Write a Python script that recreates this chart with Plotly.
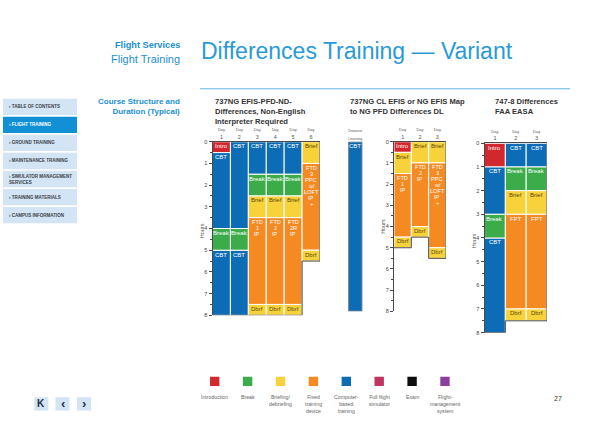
import plotly.graph_objects as go

# ---------------- data ----------------
# Chart 1: 737NG EFIS-PFD-ND Differences, Non-English, Interpreter Required
c1_days = ["1", "2", "3", "4", "5", "6"]
c1_types = [
    ["Intro", "CBT", "Break", "CBT"],
    ["CBT", "Break", "CBT"],
    ["CBT", "Break", "Brief", "FTD", "Dbrf"],
    ["CBT", "Break", "Brief", "FTD", "Dbrf"],
    ["CBT", "Break", "Brief", "FTD", "Dbrf"],
    ["Brief", "FTD", "Dbrf"],
]
c1_hours = [
    [0.5, 3.5, 1, 3],
    [4, 1, 3],
    [1.5, 1, 1, 4, 0.5],
    [1.5, 1, 1, 4, 0.5],
    [1.5, 1, 1, 4, 0.5],
    [1, 4, 0.5],
]
c1_labels = [
    ["Intro", "CBT", "Break", "CBT"],
    ["CBT", "Break", "CBT"],
    ["CBT", "Break", "Brief", "FTD|1|IP", "Dbrf"],
    ["CBT", "Break", "Brief", "FTD|2|IP", "Dbrf"],
    ["CBT", "Break", "Brief", "FTD|2R|IP", "Dbrf"],
    ["Brief", "FTD|3|PPC|w/|LOFT|IP|+", "Dbrf"],
]

# Chart 2a: distance learning block
dl_days = ["Distance<br>Learning"]
dl_types = [["CBT"]]
dl_hours = [[8]]
dl_labels = [["CBT"]]

# Chart 2: 737NG CL EFIS or NG EFIS Map to NG PFD Differences DL
c2_days = ["1", "2", "3"]
c2_types = [
    ["Intro", "Brief", "FTD", "Dbrf"],
    ["Brief", "FTD", "Dbrf"],
    ["Brief", "FTD", "Dbrf"],
]
c2_hours = [
    [0.5, 1, 3, 0.5],
    [1, 3, 0.5],
    [1, 4, 0.5],
]
c2_labels = [
    ["Intro", "Brief", "FTD|1|IP", "Dbrf"],
    ["Brief", "FTD|2|IP", "Dbrf"],
    ["Brief", "FTD|3|PPC|w/|LOFT|IP|+", "Dbrf"],
]

# Chart 3: 747-8 Differences FAA EASA
c3_days = ["1", "2", "3"]
c3_types = [
    ["Intro", "CBT", "Break", "CBT"],
    ["CBT", "Break", "Brief", "FPT", "Dbrf"],
    ["CBT", "Break", "Brief", "FPT", "Dbrf"],
]
c3_hours = [
    [1, 2, 1, 4],
    [1, 1, 1, 4, 0.5],
    [1, 1, 1, 4, 0.5],
]
c3_labels = [
    ["Intro", "CBT", "Break", "CBT"],
    ["CBT", "Break", "Brief", "FPT", "Dbrf"],
    ["CBT", "Break", "Brief", "FPT", "Dbrf"],
]

hour_ticks = [0, 1, 2, 3, 4, 5, 6, 7, 8]

legend_keys = ["Intro", "Break", "Brief", "FTD", "CBT", "FFS", "Exam", "FMS"]
legend_labels = ["Introduction", "Break", "Briefing/<br>debriefing",
                 "Fixed<br>training<br>device", "Computer-<br>based<br>training",
                 "Full flight<br>simulator", "Exam", "Flight-<br>management<br>system"]

sidebar_items = ["TABLE OF CONTENTS", "FLIGHT TRAINING", "GROUND TRAINING",
                 "MAINTENANCE TRAINING", "SIMULATOR MANAGEMENT<br>SERVICES",
                 "TRAINING MATERIALS", "CAMPUS INFORMATION"]

chart_titles = ["737NG EFIS-PFD-ND-<br>Differences, Non-English<br>Interpreter Required",
                "737NG CL EFIS or NG EFIS Map<br>to NG PFD Differences DL",
                "747-8 Differences<br>FAA EASA"]

# ---------------- styles ----------------
W, H = 600, 432
def PX(x): return x / W
def PY(y): return 1 - y / H

COLORS = {"Intro": "#d3272e", "Break": "#3cab4a", "Brief": "#f7d23a", "Dbrf": "#f7d23a",
          "FTD": "#f68a22", "FPT": "#f68a22", "CBT": "#0c6db6", "FFS": "#bf3461",
          "Exam": "#0d0d0d", "FMS": "#8d40a0"}
DARK_TEXT = {"Brief", "Dbrf"}
BLUE = "#1b8fd2"
AXC = "#4a4a4a"
SANS = "Liberation Sans, Arial, sans-serif"
NARROW = "Liberation Sans Narrow, Arial Narrow, Liberation Sans, sans-serif"
LINE_STEP = 6.0  # px between stacked label lines

fig = go.Figure()
annotations = []
shapes = []

charts = [
    dict(days=c1_days, types=c1_types, hours=c1_hours, labels=c1_labels,
         xpx=(212.5, 320.0), ypx=(140.7, 316.7), axes=True, hours_xy=(201.5, 231)),
    dict(days=dl_days, types=dl_types, hours=dl_hours, labels=dl_labels,
         xpx=(348.3, 362.3), ypx=(140.7, 312.7), axes=False),
    dict(days=c2_days, types=c2_types, hours=c2_hours, labels=c2_labels,
         xpx=(394.0, 446.0), ypx=(140.7, 312.7), axes=True, hours_xy=(383, 227)),
    dict(days=c3_days, types=c3_types, hours=c3_hours, labels=c3_labels,
         xpx=(484.5, 547.0), ypx=(142.3, 334.3), axes=True, hours_xy=(479, 241.7)),
]

layout_axes = {}
for k, ch in enumerate(charts, start=1):
    xa = "x" if k == 1 else f"x{k}"
    ya = "y" if k == 1 else f"y{k}"
    groups = {}
    totals = []
    for i, (types, hours, labels) in enumerate(zip(ch["types"], ch["hours"], ch["labels"])):
        start = 0
        for t, h, lab in zip(types, hours, labels):
            g = groups.setdefault(t, {"x": [], "y": [], "base": []})
            g["x"].append(i)
            g["y"].append(h)
            g["base"].append(start)
            lines = lab.split("|")
            for j, line in enumerate(lines):
                annotations.append(dict(
                    x=i, y=start, xref=xa, yref=ya, text=line, showarrow=False,
                    xanchor="center", yanchor="top", yshift=-0.3 - j * LINE_STEP, borderpad=0,
                    font=dict(family=NARROW, size=6 if len(lines) == 1 else 5.6,
                              color="#5a4810" if t in DARK_TEXT else "white")))
            start += h
        totals.append(start)
    for t, g in groups.items():
        fig.add_trace(go.Bar(
            x=g["x"], y=g["y"], base=g["base"], width=1,
            marker=dict(color=COLORS[t], line=dict(color="white", width=1)),
            xaxis=xa, yaxis=ya, showlegend=False, hoverinfo="skip"))
    # outer outline derived from column totals
    n = len(totals)
    pts = []
    if not ch["axes"]:
        pts.append((-0.5, 0))
    for i, T in enumerate(totals):
        pts += [(i - 0.5, T), (i + 0.5, T)]
    pts.append((n - 0.5, 0))
    if not ch["axes"]:
        pts.append((-0.5, 0))
    fig.add_trace(go.Scatter(
        x=[p[0] for p in pts], y=[p[1] for p in pts], mode="lines",
        line=dict(color=AXC, width=1), cliponaxis=False,
        xaxis=xa, yaxis=ya, showlegend=False, hoverinfo="skip"))

    if ch["axes"]:
        ticktext = [f"<span style='font-size:4px'>Day</span><br>{d}" for d in ch["days"]]
    else:
        ticktext = [f"<span style='font-size:3.6px'>{d}</span>" for d in ch["days"]]
    layout_axes["xaxis" if k == 1 else f"xaxis{k}"] = dict(
        domain=[PX(ch["xpx"][0]), PX(ch["xpx"][1])], range=[-0.5, n - 0.5],
        anchor=ya, side="top", showline=ch["axes"], linecolor=AXC, linewidth=1,
        tickvals=list(range(n)), ticktext=ticktext, ticks="",
        tickfont=dict(family=SANS, size=5.5, color="#555"),
        showgrid=False, zeroline=False, fixedrange=True)
    layout_axes["yaxis" if k == 1 else f"yaxis{k}"] = dict(
        domain=[PY(ch["ypx"][1]), PY(ch["ypx"][0])], range=[8, 0],
        anchor=xa, visible=ch["axes"], showline=True, linecolor=AXC, linewidth=1,
        tickvals=hour_ticks, ticks="outside", ticklen=3, tickwidth=0.8, tickcolor=AXC,
        minor=dict(dtick=0.5, tick0=0, ticks="outside", ticklen=2, tickwidth=0.6, tickcolor=AXC),
        tickfont=dict(family=SANS, size=5.5, color="#444"),
        showgrid=False, zeroline=False, fixedrange=True)
    if ch["axes"]:
        annotations.append(dict(
            x=PX(ch["hours_xy"][0]), y=PY(ch["hours_xy"][1]), xref="paper", yref="paper",
            text="Hours", textangle=-90, showarrow=False,
            font=dict(family=SANS, size=5.5, color="#555")))

# ---------------- header ----------------
annotations += [
    dict(x=PX(182.5), y=PY(42.5), xref="paper", yref="paper", xanchor="right", yanchor="middle",
         text="<b>Flight Services</b>", showarrow=False,
         font=dict(family=SANS, size=9.2, color=BLUE)),
    dict(x=PX(182.5), y=PY(56.5), xref="paper", yref="paper", xanchor="right", yanchor="middle",
         text="Flight Training", showarrow=False,
         font=dict(family=SANS, size=11, color=BLUE)),
    dict(x=PX(198.5), y=PY(48.5), xref="paper", yref="paper", xanchor="left", yanchor="middle",
         text="Differences Training — Variant", showarrow=False,
         font=dict(family=SANS, size=23, color="#2a9ad8")),
    dict(x=PX(182.5), y=PY(93), xref="paper", yref="paper", xanchor="right", yanchor="top",
         align="right", text="<b>Course Structure and<br>Duration (Typical)</b>", showarrow=False,
         font=dict(family=SANS, size=8, color=BLUE)),
]
shapes.append(dict(type="line", xref="paper", yref="paper",
                   x0=PX(200), x1=PX(570), y0=PY(87), y1=PY(87),
                   line=dict(color="#62b3e3", width=1)))

for tx, title in zip([213, 347.5, 492.5], chart_titles):
    annotations.append(dict(x=PX(tx), y=PY(93.5), xref="paper", yref="paper",
                            xanchor="left", yanchor="top", align="left",
                            text=f"<b>{title}</b>", showarrow=False,
                            font=dict(family=SANS, size=7.6, color="#333")))

# ---------------- sidebar ----------------
for i, item in enumerate(sidebar_items):
    top = 97 + i * 18.3
    active = (i == 1)
    shapes.append(dict(type="rect", xref="paper", yref="paper",
                       x0=PX(3), x1=PX(77), y0=PY(top), y1=PY(top + 16.6),
                       fillcolor="#1190d6" if active else "#d3e4f4", line=dict(width=0)))
    annotations.append(dict(x=PX(6.5), y=PY(top + 8.3), xref="paper", yref="paper",
                            xanchor="left", yanchor="middle", align="left",
                            text=f"<b>› {item}</b>", showarrow=False,
                            font=dict(family=SANS, size=4.5,
                                      color="white" if active else "#3a3f48")))

# ---------------- legend ----------------
for i, (key, lab) in enumerate(zip(legend_keys, legend_labels)):
    cx = 214.7 + i * 32.9
    shapes.append(dict(type="rect", xref="paper", yref="paper",
                       x0=PX(cx - 4.7), x1=PX(cx + 4.7), y0=PY(379), y1=PY(388.4),
                       fillcolor=COLORS[key], line=dict(width=0)))
    annotations.append(dict(x=PX(cx), y=PY(394.5), xref="paper", yref="paper",
                            xanchor="center", yanchor="top", align="center",
                            text=lab, showarrow=False,
                            font=dict(family=SANS, size=5.2, color="#666")))

annotations.append(dict(x=PX(564), y=PY(406.5), xref="paper", yref="paper",
                        text="27", showarrow=False,
                        font=dict(family=SANS, size=7, color="#333")))

# ---------------- nav buttons ----------------
for x0, glyph in zip([34.3, 55.5, 77.0], ["K", "‹", "›"]):
    shapes.append(dict(type="rect", xref="paper", yref="paper",
                       x0=PX(x0), x1=PX(x0 + 14), y0=PY(399.8), y1=PY(413.3),
                       fillcolor="#d3e4f4", line=dict(width=0)))
    annotations.append(dict(x=PX(x0 + 7), y=PY(406.5), xref="paper", yref="paper",
                            xanchor="center", yanchor="middle",
                            text=f"<b>{glyph}</b>", showarrow=False,
                            font=dict(family=SANS, size=10 if glyph == "K" else 13,
                                      color="#1e2f4a")))

fig.update_layout(
    width=W, height=H, margin=dict(l=0, r=0, t=0, b=0),
    paper_bgcolor="white", plot_bgcolor="white",
    barmode="overlay", showlegend=False,
    annotations=annotations, shapes=shapes,
    **layout_axes,
)

fig.write_html(
    "out.html",
    config={"displayModeBar": False},
    post_script="document.body.style.margin='0';document.body.style.padding='0';"
                "document.body.style.overflow='hidden';",
)
